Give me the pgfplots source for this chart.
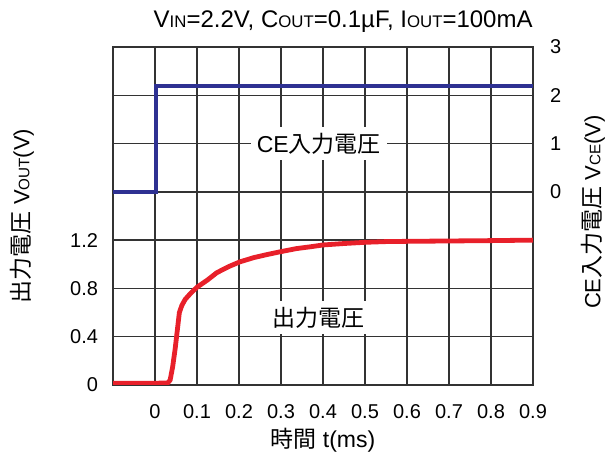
\documentclass[border=0pt]{standalone}
\usepackage{fontspec}
\setmainfont{Liberation Sans}
\newfontfamily\jp{Noto Sans CJK JP}
\usepackage{pgfplots}
\pgfplotsset{compat=1.18}
\definecolor{vout}{RGB}{232,32,42}
\definecolor{vce}{RGB}{46,49,146}
\definecolor{gridc}{RGB}{51,51,51}
\newcommand{\sub}[1]{{\fontsize{7.6}{8}\selectfont #1}}
\newcommand{\ja}[1]{{\jp\fontsize{11.5}{12}\selectfont #1}}

\begin{document}
\begin{tikzpicture}[font=\fontsize{11}{13}\selectfont]
\pgfplotsset{
  base/.style={
    width=210pt, height=169pt, scale only axis,
    xmin=-0.1, xmax=0.9,
    major tick length=0pt,
    /pgf/number format/assume math mode=true,
    tick label style={font=\fontsize{10}{12}\selectfont},
  }
}
\begin{axis}[base, name=main,
    ymin=0, ymax=2.8,
    xtick={-0.1,0,0.1,0.2,0.3,0.4,0.5,0.6,0.7,0.8,0.9},
    xticklabels={,0,0.1,0.2,0.3,0.4,0.5,0.6,0.7,0.8,0.9},
    ytick={0,0.4,0.8,1.2,1.6,2.0,2.4,2.8},
    yticklabels={0,0.4,0.8,1.2,,,,},
    grid=major,
    major grid style={gridc, line width=0.7pt},
    axis line style={gridc, line width=0.7pt},
    xticklabel style={yshift=-6pt},
    yticklabel style={xshift=-4pt},
]
\addplot[vout, line width=2.4pt, line join=round] coordinates {
    (-0.1,0.015) (0.0,0.015) (0.03,0.016) (0.036,0.04) (0.042,0.15)
    (0.048,0.3) (0.053,0.45) (0.058,0.6) (0.064,0.66) (0.072,0.71)
    (0.085,0.76) (0.1,0.81) (0.125,0.87) (0.147,0.93) (0.175,0.98)
    (0.202,1.02) (0.235,1.055) (0.266,1.08) (0.3,1.105) (0.337,1.13)
    (0.37,1.145) (0.4,1.16) (0.45,1.172) (0.5,1.182) (0.55,1.188)
    (0.6,1.19) (0.7,1.193) (0.8,1.196) (0.9,1.2)
};
\node[fill=white, inner sep=3pt] at (axis cs:0.39,0.56) {\ja{出力電圧}};
\end{axis}

\begin{axis}[base,
    ymin=-4, ymax=3,
    axis x line=none,
    axis y line*=right,
    axis line style={draw=none},
    ytick={0,1,2,3},
    yticklabel style={xshift=5pt},
]
\addplot[vce, line width=2pt] coordinates {
    (-0.1,0) (0.002,0) (0.002,2.2) (0.9,2.2)
};
\node[fill=white, inner sep=3pt] at (axis cs:0.39,1) {\fontsize{11.5}{12}\selectfont CE\ja{入力電圧}};
\end{axis}

\node[anchor=base east, inner sep=0pt, font=\fontsize{12}{14}\selectfont] at ([yshift=9.5pt]main.north east)
  {V{\fontsize{8.4}{9}\selectfont IN}=2.2V, C{\fontsize{8.4}{9}\selectfont OUT}=0.1µF, I{\fontsize{8.4}{9}\selectfont OUT}=100mA};
\node at ([yshift=-27.5pt]main.south) {\ja{時間} {\fontsize{11.5}{12}\selectfont t(ms)}};
\node[rotate=90] at ([xshift=-45.5pt]main.west)
  {\ja{出力電圧} V\sub{OUT}(V)};
\node[rotate=90] at ([xshift=30pt,yshift=2pt]main.east)
  {CE\ja{入力電圧} V\sub{CE}(V)};

\pgfresetboundingbox
\path ([xshift=-56.5pt,yshift=-36pt]main.south west) rectangle ([xshift=36.5pt,yshift=23.5pt]main.north east);
\end{tikzpicture}
\end{document}
